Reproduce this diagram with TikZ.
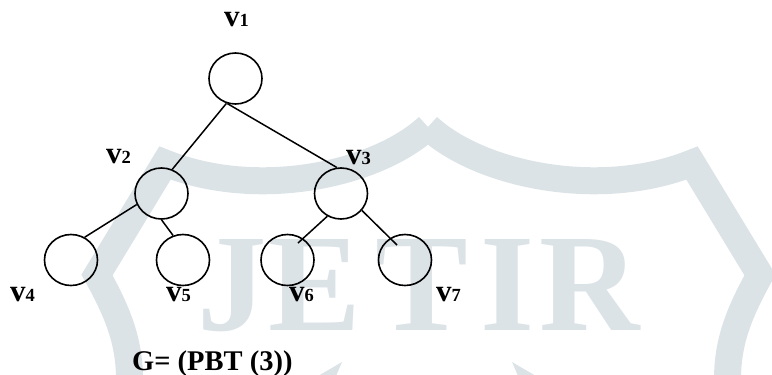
\documentclass[tikz,border=0pt]{standalone}
\usepackage{fontspec}
\setmainfont{Liberation Serif}
\usetikzlibrary{shapes.geometric,calc}
\definecolor{wmgray}{RGB}{220,227,231}
\tikzset{
  vertex/.style={ellipse, draw, line width=1.6pt, minimum width=53pt, minimum height=51pt, inner sep=0pt},
  edge/.style={line width=1.5pt},
  vlabel/.style={anchor=base west, inner sep=0pt, font=\bfseries},
  band/.style={draw=wmgray, line width=27pt, line join=miter},
  wmletter/.style={anchor=base, inner sep=0pt, text=wmgray, font=\bfseries\fontsize{139}{139}\selectfont},
}
\newcommand{\vname}[1]{{\fontsize{31}{31}\selectfont v}{\fontsize{18.5}{18.5}\selectfont #1}}
\begin{document}
\begin{tikzpicture}[x=1pt, y=-1pt]
\useasboundingbox (0,0) rectangle (772,375);
% faint shield and lettering in the background
\begin{scope}
  \clip (0,0) rectangle (772,375);
  \draw[band] (428,127) .. controls (480,175) and (600,200) .. (692,163)
    -- (760,275) .. controls (735,320) and (725,350) .. (728,395);
  \draw[band] (428,127) .. controls (376,175) and (257,200) .. (165,163)
    -- (97,275) .. controls (122,320) and (132,350) .. (129,395);
  \fill[wmgray] (342,362) -- (318,376) -- (336,376) -- cycle;
  \fill[wmgray] (512,362) -- (536,376) -- (518,376) -- cycle;
  \node[wmletter] (wmJ) at (232,330) {J};
  \node[wmletter] (wmE) at (315,330) {E};
  \node[wmletter] (wmT) at (422,330) {T};
  \node[wmletter] (wmI) at (508,330) {I};
  \node[wmletter] (wmR) at (590,330) {R};
\end{scope}
% vertices
\node[vertex] (v1) at (235.5,78.5) {};
\node[vertex] (v2) at (161.5,193.5) {};
\node[vertex] (v3) at (341,193.5) {};
\node[vertex] (v4) at (71,260) {};
\node[vertex] (v5) at (183,260) {};
\node[vertex] (v6) at (287.5,260) {};
\node[vertex] (v7) at (405,260) {};
% edges
\draw[edge] (v1.250) -- (v2.66);
\draw[edge] (v1.252) -- (v3.99);
\draw[edge] (v2.204) -- (v4.59);
\draw[edge] (v2.270) -- (v5.112);
\draw[edge] (v3.239) -- ($(v6.center)+(10.5,-17)$);
\draw[edge] (v3.321) -- ($(v7.center)+(-8,-15)$);
% labels
\node[vlabel] (l1) at (224,26) {\vname{1}};
\node[vlabel] (l2) at (106,163) {\vname{2}};
\node[vlabel] (l3) at (346,164) {\vname{3}};
\node[vlabel] (l4) at (10,301) {\vname{4}};
\node[vlabel] (l5) at (166,301) {\vname{5}};
\node[vlabel] (l6) at (289,301) {\vname{6}};
\node[vlabel] (l7) at (436,301) {\vname{7}};
\node[anchor=base west, inner sep=0pt, font=\bfseries\fontsize{28.5}{28.5}\selectfont] (cap) at (132,370) {G= (PBT (3))};
\end{tikzpicture}
\end{document}
